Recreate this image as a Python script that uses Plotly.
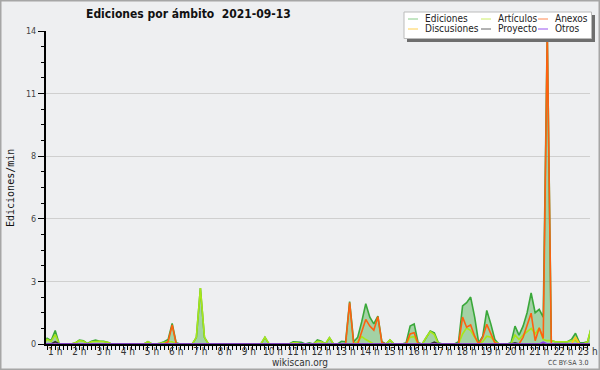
import plotly.graph_objects as go

# ---- data: 10-minute samples, index i -> hour i/6 ----
N = 141
hours = [i / 6 for i in range(N)]

def series(points):
    vals = [0.0] * N
    for i, v in points.items():
        vals[i] = v
    return vals

ediciones_pts = {4: 0.25, 5: 0.15, 6: 0.6, 11: 0.05, 12: 0.18, 13: 0.15, 14: 0.02, 15: 0.12, 16: 0.18,
                 17: 0.12, 18: 0.12, 19: 0.08, 29: 0.1, 32: 0.03, 33: 0.1, 34: 0.2, 35: 0.92, 36: 0.05,
                 41: 0.3, 42: 2.5, 43: 0.3, 58: 0.3, 65: 0.1, 66: 0.1, 67: 0.08, 69: 0.05, 71: 0.18,
                 72: 0.12, 74: 0.28, 77: 0.12, 78: 0.1, 79: 1.9, 80: 0.1, 81: 0.3, 82: 1.0, 83: 1.8,
                 84: 1.2, 85: 0.9, 86: 1.25, 87: 0.1, 89: 0.18, 93: 0.05, 94: 0.8, 95: 0.9, 96: 0.05,
                 98: 0.3, 99: 0.58, 100: 0.5, 101: 0.05, 106: 0.1, 107: 1.7, 108: 1.85, 109: 2.1,
                 110: 1.2, 111: 0.05, 112: 0.35, 113: 1.5, 114: 0.9, 115: 0.2, 119: 0.05, 120: 0.8,
                 121: 0.4, 122: 0.8, 123: 1.4, 124: 2.28, 125: 1.4, 126: 1.55, 127: 1.2, 128: 14.0,
                 129: 0.15, 130: 0.1, 131: 0.1, 132: 0.1, 133: 0.1, 134: 0.2, 135: 0.48, 136: 0.05,
                 137: 0.05, 138: 0.1, 139: 0.8, 140: 0.95}
articulos_pts = {4: 0.2, 5: 0.12, 6: 0.42, 11: 0.05, 12: 0.15, 13: 0.12, 15: 0.1, 16: 0.12, 17: 0.12,
                 18: 0.1, 19: 0.08, 29: 0.1, 32: 0.03, 33: 0.08, 34: 0.1, 35: 0.1, 41: 0.3, 42: 2.5,
                 43: 0.3, 58: 0.3, 65: 0.05, 66: 0.05, 71: 0.12, 72: 0.1, 74: 0.28, 81: 0.1, 82: 0.33,
                 83: 0.2, 84: 0.1, 89: 0.18, 94: 0.3, 95: 0.33, 98: 0.3, 99: 0.55, 100: 0.42,
                 107: 0.45, 108: 0.72, 109: 0.6, 110: 0.3, 112: 0.1, 113: 0.35, 114: 0.3, 115: 0.1,
                 120: 0.4, 121: 0.2, 122: 0.4, 123: 0.55, 124: 0.7, 125: 0.45, 126: 0.72, 127: 0.2,
                 128: 0.15, 129: 0.15, 130: 0.1, 131: 0.1, 132: 0.1, 133: 0.1, 134: 0.15, 135: 0.15,
                 138: 0.1, 139: 0.8, 140: 0.95}
anexos_pts = {34: 0.1, 35: 0.85, 79: 1.85, 82: 0.6, 83: 1.1, 84: 0.8, 85: 0.62, 86: 1.22, 87: 0.05,
              94: 0.45, 95: 0.5, 107: 1.2, 108: 0.75, 109: 0.85, 110: 0.35, 112: 0.3, 113: 0.88,
              114: 0.45, 115: 0.05, 122: 0.3, 123: 0.8, 124: 1.38, 125: 0.15, 126: 0.72, 127: 0.25,
              128: 13.9}
discusiones_pts = {135: 0.3}
proyecto_pts = {6: 0.1, 100: 0.08, 120: 0.05}
otros_pts = {127: 0.08}

names = ["Ediciones", "Artículos", "Anexos", "Discusiones", "Proyecto", "Otros"]
values = [series(p) for p in (ediciones_pts, articulos_pts, anexos_pts,
                              discusiones_pts, proyecto_pts, otros_pts)]
line_colors = ["#3aa83a", "#a8e61a", "#ff6010", "#ffc81e", "#333333", "#8a3cf0"]
legend_colors = ["#88cc88", "#ccee66", "#ff8850", "#ffd050", "#666666", "#9955ee"]

hour_ticks = list(range(1, 24))
hour_labels = [f"{h} h" for h in hour_ticks]
y_tickvals = [0, 2.8, 5.6, 8.4, 11.2, 14]
y_ticktext = ["0", "3", "6", "8", "11", "14"]

W, H = 600, 370
ML, MR, MT, MB = 46, 10, 31, 26
PW, PH = W - ML - MR, H - MT - MB

def px(x):
    return (x - ML) / PW

def py(y):
    return (H - MB - y) / PH

BG = "#eeeff1"
SANS = "DejaVu Sans Condensed, Liberation Sans Narrow, DejaVu Sans, sans-serif"

fig = go.Figure()
for k, (name, vals, col) in enumerate(zip(names, values, line_colors)):
    kw = {}
    if k == 0:
        kw = dict(fill="tozeroy", fillcolor="rgba(60,170,60,0.42)")
    fig.add_trace(go.Scatter(x=hours, y=vals, name=name, mode="lines",
                             line=dict(color=col, width=1.6), showlegend=False, **kw))

minor_y = [i * 0.7 for i in range(21) if i % 4 != 0]
fig.update_layout(
    width=W, height=H, autosize=False,
    margin=dict(l=ML, r=MR, t=MT, b=MB, pad=0),
    paper_bgcolor=BG, plot_bgcolor=BG,
    font=dict(family=SANS, size=10, color="#333"),
    xaxis=dict(range=[(46 - 31) / 24.2, (590 - 31) / 24.2], tickmode="array", automargin=False,
               tickvals=hour_ticks, ticktext=hour_labels, ticks="outside", ticklen=4,
               tickcolor="black", tickwidth=1, showline=True, linecolor="black", linewidth=2,
               showgrid=False, zeroline=False, tickfont=dict(size=10, color="#333"),
               ticklabelstandoff=-7,
               minor=dict(dtick=1 / 6, tick0=0, ticklen=4, tickcolor="black", showgrid=False)),
    yaxis=dict(range=[0, 14], tickmode="array", tickvals=y_tickvals, ticktext=y_ticktext,
               automargin=False,
               ticks="outside", ticklen=6, tickcolor="black", showline=True, linecolor="black",
               linewidth=2, showgrid=True, gridcolor="#cfcfcf", gridwidth=1, zeroline=False,
               tickfont=dict(size=9, color="#444"),
               minor=dict(tickmode="array", tickvals=minor_y, ticklen=3, tickcolor="black",
                          showgrid=False)),
)

shapes = [
    dict(type="rect", xref="paper", yref="paper", x0=px(0.5), x1=px(599.5), y0=py(0.5), y1=py(369.5),
         line=dict(color="#a6a6a6", width=2), fillcolor="rgba(0,0,0,0)", layer="above"),
    dict(type="rect", xref="paper", yref="paper", x0=px(407), x1=px(595), y0=py(15), y1=py(42),
         line=dict(width=0), fillcolor="#6e6e6e", layer="above"),
    dict(type="rect", xref="paper", yref="paper", x0=px(404), x1=px(591.5), y0=py(12), y1=py(38.5),
         line=dict(color="#bbbbbb", width=1), fillcolor="#ffffff", layer="above"),
]
annotations = [
    dict(text="<b>Ediciones por ámbito  2021-09-13</b>", x=px(188), y=py(14), xref="paper",
         yref="paper", showarrow=False, xanchor="center", yanchor="middle",
         font=dict(family="DejaVu Sans Condensed, DejaVu Sans, sans-serif", size=12, color="#111")),
    dict(text="Ediciones/min", x=px(10), y=py(188), xref="paper", yref="paper", showarrow=False,
         textangle=-90, xanchor="center", yanchor="middle",
         font=dict(family="DejaVu Sans Mono, monospace", size=10, color="#111")),
    dict(text="wikiscan.org", x=px(300), y=py(362), xref="paper", yref="paper", showarrow=False,
         xanchor="center", yanchor="middle", font=dict(family=SANS, size=10, color="#333")),
    dict(text="CC BY-SA 3.0", x=px(590), y=py(363), xref="paper", yref="paper", showarrow=False,
         xanchor="right", yanchor="middle", font=dict(family=SANS, size=7, color="#444")),
]
col_x = [408, 481, 538]
row_y = [19, 29]
for k, (name, col) in enumerate(zip(names, legend_colors)):
    r, c = divmod(k, 3)
    lx, ly = col_x[c], row_y[r]
    shapes.append(dict(type="line", xref="paper", yref="paper", x0=px(lx), x1=px(lx + 10),
                       y0=py(ly), y1=py(ly), line=dict(color=col, width=1), layer="above"))
    annotations.append(dict(text=name, x=px(lx + 15), y=py(ly), xref="paper", yref="paper",
                            showarrow=False, xanchor="left", yanchor="middle",
                            font=dict(family=SANS, size=10, color="#222")))
fig.update_layout(shapes=shapes, annotations=annotations)

fig.write_html("out.html")
